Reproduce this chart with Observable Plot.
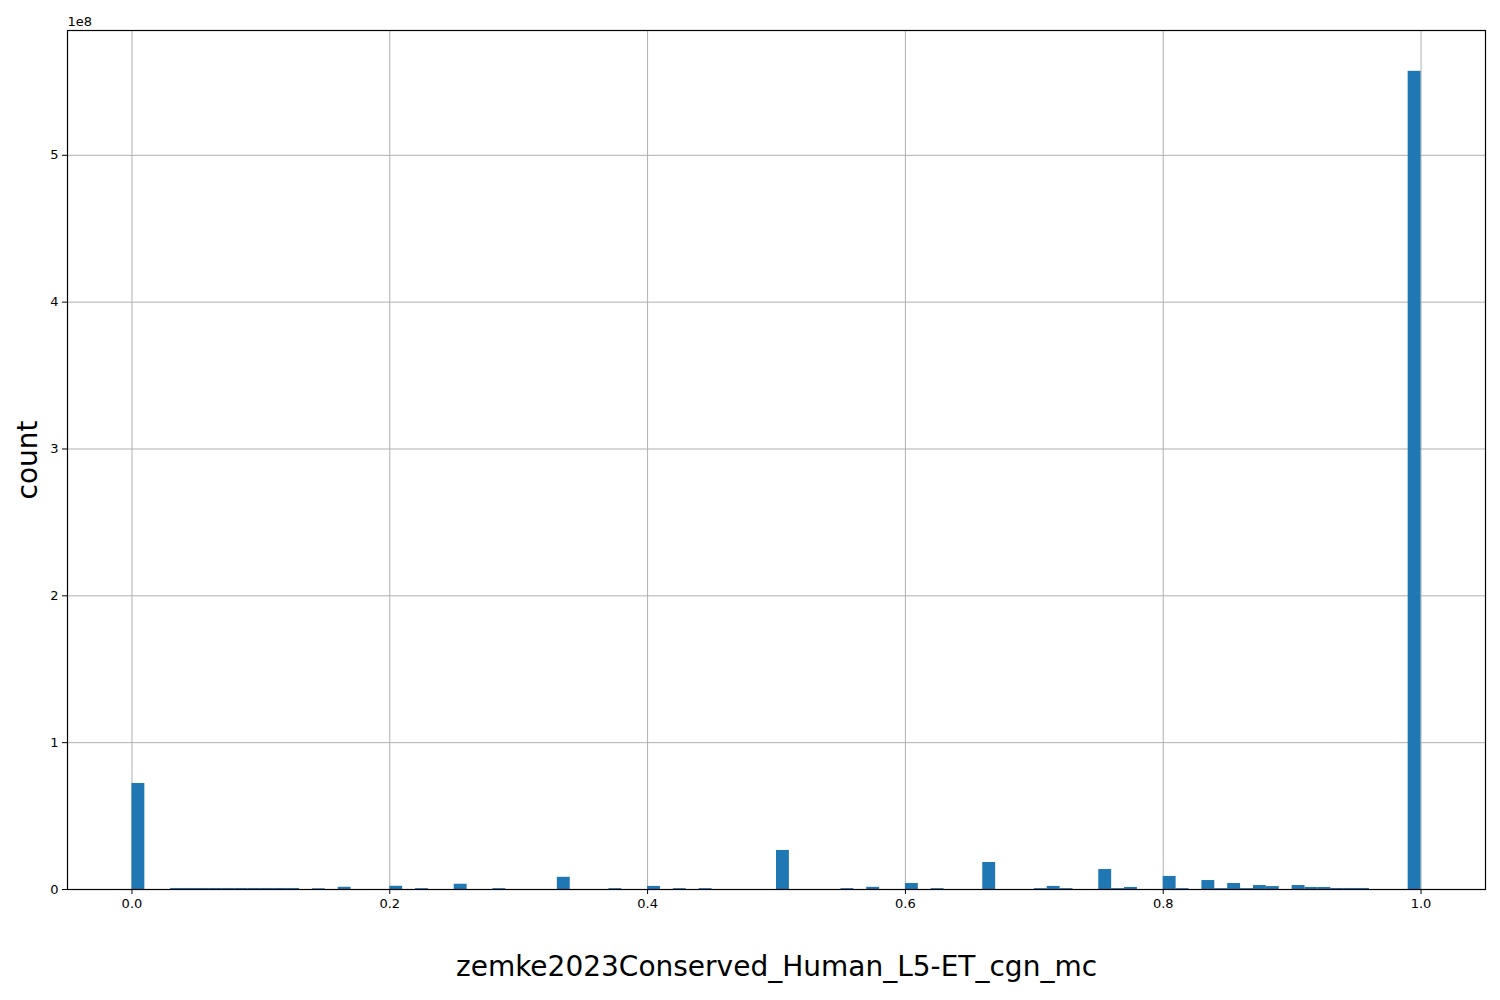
<!DOCTYPE html>
<html>
<head>
<meta charset="utf-8">
<script src="https://cdn.jsdelivr.net/npm/d3@7"></script>
<script src="https://cdn.jsdelivr.net/npm/@observablehq/plot@0.6"></script>
<style>
  html, body { margin: 0; padding: 0; background: #fff; }
  #chart { width: 1500px; height: 1000px; }
  svg { font-family: "DejaVu Sans", sans-serif; }
</style>
</head>
<body>
<div id="chart"></div>
<script>
const binWidth = 0.01;
const binStarts = [0.00, 0.03, 0.04, 0.05, 0.06, 0.07, 0.08, 0.09, 0.10, 0.11, 0.12,
  0.14, 0.16, 0.20, 0.22, 0.25, 0.28, 0.33, 0.37, 0.40, 0.42, 0.44, 0.50, 0.55, 0.57,
  0.60, 0.62, 0.66, 0.70, 0.71, 0.72, 0.75, 0.76, 0.77, 0.80, 0.81, 0.83, 0.84, 0.85,
  0.86, 0.87, 0.88, 0.90, 0.91, 0.92, 0.93, 0.94, 0.95, 0.99];
const counts = [7.22e7, 7e5, 7e5, 7e5, 7e5, 7e5, 7e5, 7e5, 7e5, 7e5, 7e5,
  5e5, 1.5e6, 2.2e6, 6e5, 3.6e6, 6e5, 8.3e6, 6e5, 2.1e6, 6e5, 6e5, 2.66e7, 6e5, 1.5e6,
  4.1e6, 6e5, 1.84e7, 6e5, 2.1e6, 6e5, 1.36e7, 6e5, 1.4e6, 8.9e6, 6e5, 6.1e6, 6e5, 4.1e6,
  6e5, 2.7e6, 2e6, 2.7e6, 1.4e6, 1.4e6, 7e5, 7e5, 7e5, 5.572e8];
const xTicks = [0, 0.2, 0.4, 0.6, 0.8, 1.0];
const yTicks = [0, 1e8, 2e8, 3e8, 4e8, 5e8];
const xLabel = "zemke2023Conserved_Human_L5-ET_cgn_mc";
const yLabel = "count";
const offsetText = "1e8";

const bins = binStarts.map((s, i) => ({x1: s, x2: s + binWidth, count: counts[i]}));

const chart = Plot.plot({
  width: 1500,
  height: 1000,
  marginLeft: 67,
  marginRight: 15,
  marginTop: 30,
  marginBottom: 111,
  style: {fontFamily: "DejaVu Sans, sans-serif", fontSize: "13px", color: "#000", background: "#fff"},
  x: {domain: [-0.05, 1.05]},
  y: {domain: [0, 5.85e8]},
  marks: [
    Plot.gridX(xTicks, {stroke: "#b0b0b0", strokeOpacity: 1, strokeWidth: 1}),
    Plot.gridY(yTicks, {stroke: "#b0b0b0", strokeOpacity: 1, strokeWidth: 1}),
    Plot.rectY(bins, {x1: "x1", x2: "x2", y: "count", fill: "#1f77b4", inset: 0}),
    Plot.axisX(xTicks, {tickSize: 5, tickPadding: 4, tickFormat: d => d.toFixed(1), label: null, fontSize: 13}),
    Plot.axisY(yTicks, {tickSize: 5, tickPadding: 4, tickFormat: d => String(d / 1e8), label: null, fontSize: 13}),
    Plot.frame({stroke: "#000", strokeWidth: 1.2}),
    Plot.text([offsetText], {frameAnchor: "top-left", dy: -5, lineAnchor: "bottom", textAnchor: "start", fontSize: 13}),
    Plot.text([xLabel], {frameAnchor: "bottom", dy: 86, fontSize: 28}),
    Plot.text([yLabel], {frameAnchor: "left", dx: -39, rotate: -90, textAnchor: "middle", fontSize: 28})
  ]
});
document.getElementById("chart").appendChild(chart);
</script>
</body>
</html>
